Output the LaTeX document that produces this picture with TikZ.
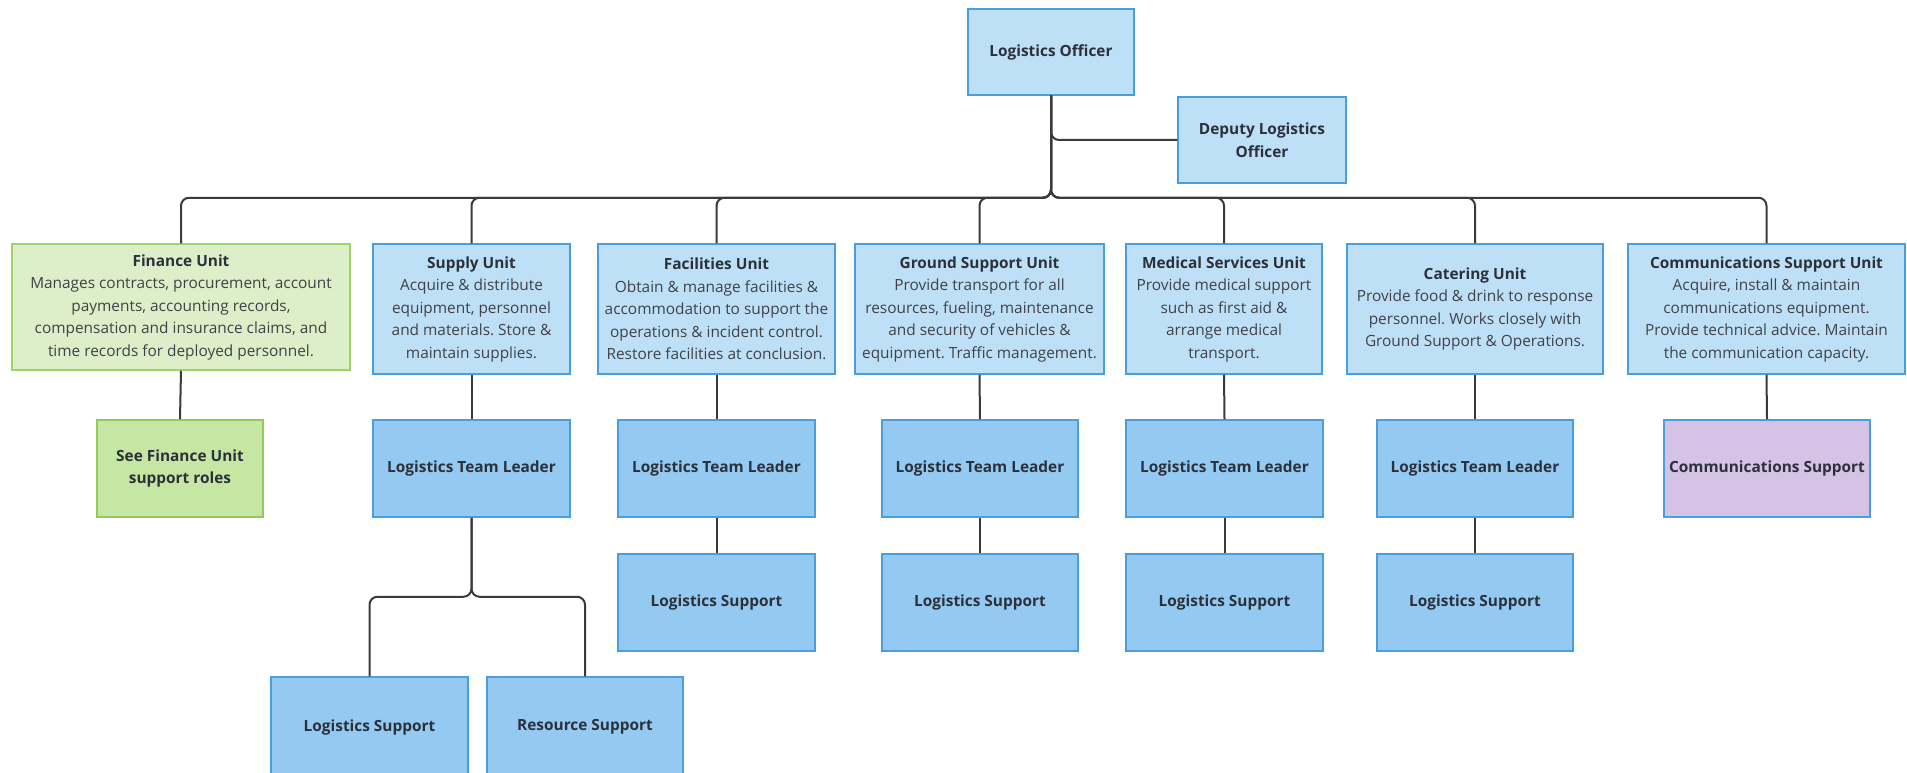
\documentclass[tikz,border=0pt]{standalone}
\usepackage{fontspec}
\setmainfont{Open Sans}
\frenchspacing
\definecolor{unitfill}{RGB}{190,224,247}
\definecolor{rolefill}{RGB}{148,202,242}
\definecolor{boxline}{RGB}{74,158,222}
\definecolor{finfill}{RGB}{221,239,201}
\definecolor{finline}{RGB}{160,210,108}
\definecolor{seefill}{RGB}{198,230,163}
\definecolor{seeline}{RGB}{146,202,90}
\definecolor{commfill}{RGB}{213,195,230}
\definecolor{connline}{RGB}{58,58,62}
\definecolor{textdark}{RGB}{44,48,58}
\definecolor{textbody}{RGB}{64,66,72}
\newcommand\unittitle[1]{{\color{textdark}\bfseries #1}}
\newcommand\bodyfont{\fontsize{15.4}{22.5}\selectfont}
\tikzset{
  box/.style={draw=boxline, line width=1.5pt, inner sep=0pt, align=center,
    text=textbody, font=\bodyfont},
  unitbox/.style={box, fill=unitfill},
  rolebox/.style={box, fill=rolefill, text=textdark, font=\bodyfont\bfseries},
  finbox/.style={box, fill=finfill, draw=finline},
  seebox/.style={box, fill=seefill, draw=seeline, text=textdark, font=\bodyfont\bfseries},
  commbox/.style={box, fill=commfill, text=textdark, font=\bodyfont\bfseries},
  conn/.style={draw=connline, line width=2pt, rounded corners=8pt},
  sz/.style 2 args={minimum width=#1pt, minimum height=#2pt},
}
\begin{document}
\begin{tikzpicture}[x=1pt,y=-1pt]
\useasboundingbox (0,0) rectangle (1907,773);
\clip (0,0) rectangle (1907,773);
\fill[white] (0,0) rectangle (1907,773);

% top level
\node[unitbox, sz={166}{86}, text=textdark, font=\bodyfont\bfseries] (lo) at (1051,52) {Logistics Officer};
\node[unitbox, sz={168}{86}, text=textdark, font=\bodyfont\bfseries] (dep) at (1262,140) {Deputy Logistics\\Officer};

% units
\node[finbox, sz={338}{126}] (fin) at (181,307) {\unittitle{Finance Unit}\\Manages contracts, procurement, account\\payments, accounting records,\\compensation and insurance claims, and\\time records for deployed personnel.};
\node[unitbox, sz={197}{130}] (sup) at (471.5,309) {\unittitle{Supply Unit}\\Acquire \& distribute\\equipment, personnel\\and materials. Store \&\\maintain supplies.};
\node[unitbox, sz={237}{130}] (fac) at (716.5,309) {\unittitle{Facilities Unit}\\Obtain \& manage facilities \&\\accommodation to support the\\operations \& incident control.\\Restore facilities at conclusion.};
\node[unitbox, sz={249}{130}] (gsu) at (979.5,309) {\unittitle{Ground Support Unit}\\Provide transport for all\\resources, fueling, maintenance\\and security of vehicles \&\\equipment. Traffic management.};
\node[unitbox, sz={196}{130}] (med) at (1224,309) {\unittitle{Medical Services Unit}\\Provide medical support\\such as first aid \&\\arrange medical\\transport.};
\node[unitbox, sz={256}{130}] (cat) at (1475,309) {\unittitle{Catering Unit}\\Provide food \& drink to response\\personnel. Works closely with\\Ground Support \& Operations.};
\node[unitbox, sz={277}{130}] (com) at (1766.5,309) {\unittitle{Communications Support Unit}\\Acquire, install \& maintain\\communications equipment.\\Provide technical advice. Maintain\\the communication capacity.};

% team leaders
\node[seebox, sz={166}{97}] (see) at (180,468.5) {See Finance Unit\\support roles};
\node[rolebox, sz={197}{97}] (suptl) at (471.5,468.5) {Logistics Team Leader};
\node[rolebox, sz={197}{97}] (factl) at (716.5,468.5) {Logistics Team Leader};
\node[rolebox, sz={196}{97}] (gsutl) at (980,468.5) {Logistics Team Leader};
\node[rolebox, sz={197}{97}] (medtl) at (1224.5,468.5) {Logistics Team Leader};
\node[rolebox, sz={196}{97}] (cattl) at (1475,468.5) {Logistics Team Leader};
\node[commbox, sz={206}{97}] (comsup) at (1767,468.5) {Communications Support};

% support roles
\node[rolebox, sz={197}{97}] (facls) at (716.5,602.5) {Logistics Support};
\node[rolebox, sz={196}{97}] (gsuls) at (980,602.5) {Logistics Support};
\node[rolebox, sz={197}{97}] (medls) at (1224.5,602.5) {Logistics Support};
\node[rolebox, sz={196}{97}] (catls) at (1475,602.5) {Logistics Support};
\node[rolebox, sz={197}{100}] (supls) at (369.5,727) {Logistics Support};
\node[rolebox, sz={196}{100}] (suprs) at (585,727) {Resource Support};

% connectors from the officer
\draw[conn] (lo.south) |- (dep.west);
\foreach \u in {fin,sup,fac,gsu,med,cat,com}
  \draw[conn] (lo.south) -- ++(0,102) -| (\u.north);

% unit chains
\draw[conn] (fin.south) -- (see.north);
\draw[conn] (sup.south) -- (suptl.north);
\draw[conn] (fac.south) -- (factl.north);
\draw[conn] (gsu.south) -- (gsutl.north);
\draw[conn] (med.south) -- (medtl.north);
\draw[conn] (cat.south) -- (cattl.north);
\draw[conn] (com.south) -- (comsup.north);
\draw[conn] (factl.south) -- (facls.north);
\draw[conn] (gsutl.south) -- (gsuls.north);
\draw[conn] (medtl.south) -- (medls.north);
\draw[conn] (cattl.south) -- (catls.north);
\draw[conn] (suptl.south) -- ++(0,79) -| (supls.north);
\draw[conn] (suptl.south) -- ++(0,79) -| (suprs.north);
\end{tikzpicture}
\end{document}
